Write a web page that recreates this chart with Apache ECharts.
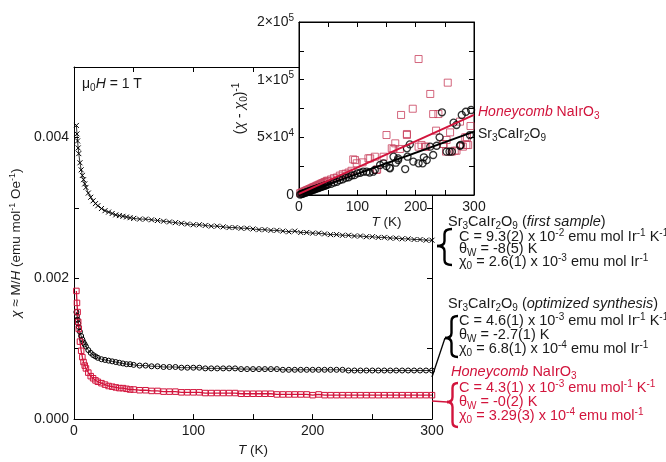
<!DOCTYPE html>
<html><head><meta charset="utf-8">
<script src="https://cdn.jsdelivr.net/npm/echarts@6/dist/echarts.min.js"></script>
<style>html,body{margin:0;padding:0;background:#fff}#c{width:666px;height:462px}</style>
</head><body><div id="c"></div>
<script>
// ---------- data ----------
const tempMain = [2,2.5,3,3.5,4,5,6,7,8,9,10,12,14,16,18,20,23,26,29,32,35,38,41,44,47,50,
  55,60,65,70,75,80,85,90,95,100,105,110,115,120,125,130,135,140,145,150,155,160,165,170,175,180,185,190,195,200,
  205,210,215,220,225,230,235,240,245,250,255,260,265,270,275,280,285,290,295,300];
const chiFirst = [0.00417,0.00405,0.00395,0.00385,0.00377,0.00364,0.00354,0.00346,0.00340,0.00334,0.00329,0.00321,0.00315,0.00310,0.00306,0.00303,0.00299,0.00296,0.00294,0.00292,0.00290,0.00289,0.00288,0.00287,0.00286,0.00285,
  0.00284,0.00284,0.00283,0.00282,0.00281,0.00280,0.00279,0.00278,0.00277,0.00276,
  0.00276,0.00275,0.00274,0.00274,0.00273,0.00272,0.00272,0.00271,0.00271,0.00270,
  0.00269,0.00269,0.00268,0.00268,0.00267,0.00266,0.00267,0.00265,0.00265,0.00264,
  0.00264,0.00263,0.00262,0.00262,0.00261,0.00261,0.00260,0.00260,0.00259,0.00259,
  0.00258,0.00258,0.00257,0.00257,0.00256,0.00256,0.00255,0.00255,0.00254,0.00254];
const chiOpt = [0.00152,0.00146,0.00141,0.00136,0.00131,0.00124,0.00118,0.00113,0.00109,0.00106,0.00103,0.00098,0.00094,0.00091,0.00089,0.00087,0.00085,0.00084,0.00083,0.00082,0.00081,0.00080,0.00079,0.00078,0.00078,0.00077,
  0.00076,0.00076,0.00075,0.00075,0.00074,0.00074,0.00074,0.00073,0.00073,0.00073,
  0.00073,0.00072,0.00072,0.00072,0.00072,0.00072,0.00072,0.00071,0.00071,0.00071,
  0.00071,0.00071,0.00071,0.00071,0.00070,0.00070,0.00070,0.00070,0.00070,0.00070,
  0.00070,0.00070,0.00070,0.00070,0.00070,0.00069,0.00069,0.00069,0.00069,0.00069,
  0.00069,0.00069,0.00069,0.00069,0.00069,0.00069,0.00069,0.00069,0.00069,0.00069];
const chiNa = [0.00182,0.00165,0.00152,0.00138,0.00128,0.00110,0.00097,0.00088,0.00081,0.00076,0.00072,0.00066,0.00061,0.00058,0.00055,0.00053,0.00051,0.00049,0.00047,0.00046,0.00045,0.00044,0.00044,0.00043,0.00042,0.00042,
  0.00041,0.00041,0.00040,0.00040,0.00039,0.00039,0.00039,0.00038,0.00038,0.00038,
  0.00038,0.00037,0.00037,0.00037,0.00037,0.00037,0.00037,0.00036,0.00036,0.00036,
  0.00036,0.00036,0.00036,0.00035,0.00035,0.00035,0.00035,0.00035,0.00035,0.00034,
  0.00035,0.00034,0.00034,0.00034,0.00034,0.00034,0.00034,0.00034,0.00034,0.00034,
  0.00034,0.00034,0.00034,0.00034,0.00034,0.00034,0.00034,0.00034,0.00034,0.00034];

// inset: (chi - chi0)^-1 vs T
const insetNaT = [2,4,6,8,10,12,14,16,18,20,22,24,26,28,30,32,34,36,38,40,42,44,46,48,50,55,60,65,70,75,80,85,90,
  93,96,99,109,119,122,130,133,134,145,150,159,162,165,173,175,185,185,195,205,205,210,216,218,225,230,235,239,247,248,252,253,255,259,262,267,270,276,281,285,287,288,290,294];
const insetNaV = [1500,1900,2400,2900,3300,3800,4300,4700,5200,5600,6100,6600,7000,7400,8000,8300,8900,9200,9800,10300,10600,11300,11500,12300,12400,13500,14600,15200,16800,18000,18500,19500,21000,
  30900,30300,27500,28300,31800,31800,33200,21700,22200,33200,52000,40500,39900,44800,39900,69400,52000,52900,74800,117900,41900,43400,41900,41900,87600,70200,55800,70200,44200,44200,37600,47700,97400,54300,37600,38400,38400,63600,41900,50000,43400,50000,43300,59800];
const insetSrT = [2,4,6,8,10,12,14,16,18,20,22,24,26,28,30,32,34,36,38,40,42,44,46,48,50,55,60,65,70,75,80,85,90,95,100,
  105,110,116,121,127,130,139,145,150,155,156,162,166,170,170,182,185,186,190,196,205,212,214,219,225,230,236,241,245,253,258,262,265,270,276,277,279,286,293,295];
const insetSrV = [400,800,1100,1500,1800,2200,2600,2900,3300,3700,4000,4400,4800,5100,5500,5900,6200,6600,7000,7300,7700,8000,8400,8800,9200,9600,10800,11500,12900,13600,14800,15400,16900,17200,18700,
  19300,20200,20200,19500,20200,21700,26000,27500,25000,23700,23100,33200,28000,30300,31800,22500,40500,33200,43900,28900,27500,27500,32700,30300,41900,34700,42700,50000,71700,37600,37600,37600,62700,60700,42700,43400,69400,72200,52000,73700];
const fitNa = [[0,1000],[300,69500]];
const fitSr = [[0,0],[300,55000]];

// tick labels
const mainXTickLabels = ['0','','100','','200','','300'];
const mainYTickLabels = ['0.000','','0.002','','0.004',''];
const insetXTickLabels = ['0','','100','','200','','300'];
const insetYTickLabels = ['0','','5×10{sup|4}','','1×10{sup|5}','','2×10{sup|5}'];

// ---------- chart ----------
const FONT = 'Liberation Sans, Arial, Helvetica, sans-serif';
const TXT = '#1a1a1a';
const RED = '#d2143c';
const zip = (a, b) => a.map((t, i) => [t, b[i]]);
function mkRich(color, size) {
  const s = Math.round(size * 0.7);
  return {
    i: {fontStyle: 'italic', fontSize: size, fontFamily: FONT, color: color},
    sup: {fontSize: s, fontFamily: FONT, color: color, padding: [0, 0, Math.round(size * 0.55), 0]},
    sub: {fontSize: s, fontFamily: FONT, color: color, padding: [Math.round(size * 0.55), 0, 0, 0]}
  };
}
const rich13 = mkRich(TXT, 13.5);
const rich14 = mkRich(TXT, 14);
function axisBase(extra) {
  return Object.assign({
    type: 'value', splitLine: {show: false},
    axisLine: {show: true, onZero: false, lineStyle: {color: '#000', width: 1}},
    axisTick: {show: true, inside: true, length: 5, lineStyle: {color: '#000', width: 1}},
    axisLabel: {show: false}
  }, extra);
}
const labelStyle = (arr, step, useRich) => {
  const o = {
    show: true, color: TXT, fontSize: 14, fontFamily: FONT, margin: 5,
    formatter: v => { const k = Math.round(v / step); return arr[k] || ''; }
  };
  if (useRich) o.rich = rich14;
  return o;
};

function brace(xt, xr, yt, yb, ym, color) {
  const xm = (xt + xr) / 2, r = 5;
  const st = {stroke: color, fill: null, lineWidth: 2.4};
  const bz = (x1, y1, cx, cy, x2, y2) => ({type: 'bezierCurve', z: 20, silent: true,
    shape: {x1: x1, y1: y1, cpx1: cx, cpy1: cy, x2: x2, y2: y2}, style: st});
  const ln = (x1, y1, x2, y2) => ({type: 'line', z: 20, silent: true,
    shape: {x1: x1, y1: y1, x2: x2, y2: y2}, style: st});
  return [
    bz(xr, yt, xm, yt, xm, yt + r),
    ln(xm, yt + r, xm, ym - r),
    bz(xm, ym - r, xm, ym, xt, ym),
    bz(xt, ym, xm, ym, xm, ym + r),
    ln(xm, ym + r, xm, yb - r),
    bz(xm, yb - r, xm, yb, xr, yb)
  ];
}
function txt(x, y, text, red, size) {
  const sz = size || 14.5;
  return {type: 'text', x: x, y: y, z: 20, silent: true,
    style: {text: text, fill: red ? RED : TXT, fontSize: sz, fontFamily: FONT,
      verticalAlign: 'middle', align: 'left', rich: mkRich(red ? RED : TXT, sz)}};
}

const chart = echarts.init(document.getElementById('c'), null, {renderer: 'canvas'});
chart.setOption({
  animation: false,
  backgroundColor: '#fff',
  grid: [
    {left: 74, top: 67, width: 358, height: 360, show: false},
    {left: 299, top: 22, width: 175, height: 173, show: true, backgroundColor: '#fff', borderColor: '#000', borderWidth: 1, z: 5}
  ],
  xAxis: [
    axisBase({gridIndex: 0, position: 'bottom', min: 0, max: 300, interval: 50,
      axisLabel: labelStyle(mainXTickLabels, 50, false),
      name: '{i|T} (K)', nameLocation: 'middle', nameGap: 19,
      nameTextStyle: {color: TXT, fontSize: 13.5, fontFamily: FONT, rich: rich13}}),
    axisBase({gridIndex: 0, position: 'top', min: 0, max: 300, interval: 50}),
    axisBase({gridIndex: 1, position: 'bottom', min: 0, max: 300, interval: 50, z: 6,
      axisLabel: labelStyle(insetXTickLabels, 50, false),
      name: '{i|T} (K)', nameLocation: 'middle', nameGap: 20,
      nameTextStyle: {color: TXT, fontSize: 13.5, fontFamily: FONT, rich: rich13}}),
    axisBase({gridIndex: 1, position: 'top', min: 0, max: 300, interval: 50, z: 6})
  ],
  yAxis: [
    axisBase({gridIndex: 0, position: 'left', min: 0, max: 0.005, interval: 0.001,
      axisLabel: labelStyle(mainYTickLabels, 0.001, false),
      name: '{i|χ} ≈ M/{i|H} (emu mol{sup|-1} Oe{sup|-1})', nameLocation: 'middle', nameGap: 46,
      nameTextStyle: {color: TXT, fontSize: 13.5, fontFamily: FONT, rich: rich13}}),
    axisBase({gridIndex: 0, position: 'right', min: 0, max: 0.005, interval: 0.001}),
    axisBase({gridIndex: 1, position: 'left', min: 0, max: 150000, interval: 25000, z: 6,
      axisLabel: labelStyle(insetYTickLabels, 25000, true),
      name: '({i|χ} - {i|χ}{sub|0}){sup|-1}', nameLocation: 'middle', nameGap: 50,
      nameTextStyle: {color: TXT, fontSize: 14, fontFamily: FONT, rich: rich14}}),
    axisBase({gridIndex: 1, position: 'right', min: 0, max: 150000, interval: 25000, z: 6})
  ],
  series: [
    {type: 'line', xAxisIndex: 0, yAxisIndex: 0, z: 2, silent: true, data: zip(tempMain, chiFirst),
      symbol: 'path://M0,0L10,10M10,0L0,10', symbolSize: 5,
      itemStyle: {color: '#000', borderColor: '#000', borderWidth: 1},
      lineStyle: {color: '#000', width: 0.8}},
    {type: 'line', xAxisIndex: 0, yAxisIndex: 0, z: 2, silent: true, data: zip(tempMain, chiOpt),
      symbol: 'circle', symbolSize: 5,
      itemStyle: {color: 'rgba(255,255,255,0)', borderColor: '#000', borderWidth: 1},
      lineStyle: {color: '#000', width: 0.8}},
    {type: 'line', xAxisIndex: 0, yAxisIndex: 0, z: 2, silent: true, data: zip(tempMain, chiNa),
      symbol: 'rect', symbolSize: 5.5,
      itemStyle: {color: 'rgba(255,255,255,0)', borderColor: RED, borderWidth: 1},
      lineStyle: {color: RED, width: 1.3}},
    {type: 'scatter', xAxisIndex: 2, yAxisIndex: 2, z: 7, silent: true, data: zip(insetNaT, insetNaV),
      symbol: 'rect', symbolSize: 7,
      itemStyle: {color: 'rgba(255,255,255,0)', borderColor: '#c8405c', borderWidth: 1}},
    {type: 'scatter', xAxisIndex: 2, yAxisIndex: 2, z: 7, silent: true, data: zip(insetSrT, insetSrV),
      symbol: 'circle', symbolSize: 7,
      itemStyle: {color: 'rgba(255,255,255,0)', borderColor: '#000', borderWidth: 1.3}},
    {type: 'line', xAxisIndex: 2, yAxisIndex: 2, z: 8, silent: true, data: fitSr, showSymbol: false,
      lineStyle: {color: '#000', width: 2}},
    {type: 'line', xAxisIndex: 2, yAxisIndex: 2, z: 8, silent: true, data: fitNa, showSymbol: false,
      lineStyle: {color: RED, width: 2}}
  ],
  graphic: [
    txt(82, 84, 'μ{sub|0}{i|H} = 1 T', false, 14),
    txt(478, 112, '{i|Honeycomb} NaIrO{sub|3}', true, 14),
    txt(478, 134, 'Sr{sub|3}CaIr{sub|2}O{sub|9}', false, 14),
    // block 1
    txt(448, 222, 'Sr{sub|3}CaIr{sub|2}O{sub|9} ({i|first sample})'),
    txt(459, 237, 'C = 9.3(2) x 10{sup|-2} emu mol Ir{sup|-1} K{sup|-1}'),
    txt(459, 249, 'θ{sub|W} = -8(5) K'),
    txt(459, 262, 'χ{sub|0} = 2.6(1) x 10{sup|-3} emu mol Ir{sup|-1}'),
    ...brace(437, 452, 229, 265, 246, '#000'),
    // block 2
    txt(448, 304, 'Sr{sub|3}CaIr{sub|2}O{sub|9} ({i|optimized synthesis})'),
    txt(459, 321, 'C = 4.6(1) x 10{sup|-3} emu mol Ir{sup|-1} K{sup|-1}'),
    txt(459, 335, 'θ{sub|W} = -2.7(1) K'),
    txt(459, 349, 'χ{sub|0} = 6.8(1) x 10{sup|-4} emu mol Ir{sup|-1}'),
    ...brace(445, 458, 316, 357, 338, '#000'),
    {type: 'line', z: 20, silent: true, shape: {x1: 432, y1: 377, x2: 445, y2: 338},
      style: {stroke: '#000', lineWidth: 1.3}},
    // block 3
    txt(451, 372, '{i|Honeycomb} NaIrO{sub|3}', true),
    txt(459, 388, 'C = 4.3(1) x 10{sup|-3} emu mol{sup|-1} K{sup|-1}', true),
    txt(459, 402, 'θ{sub|W} = -0(2) K', true),
    txt(459, 416, 'χ{sub|0} = 3.29(3) x 10{sup|-4} emu mol{sup|-1}', true),
    ...brace(447, 458, 383, 427, 402, RED),
    {type: 'line', z: 20, silent: true, shape: {x1: 432, y1: 401, x2: 447, y2: 402},
      style: {stroke: RED, lineWidth: 1.3}}
  ]
});
</script></body></html>
